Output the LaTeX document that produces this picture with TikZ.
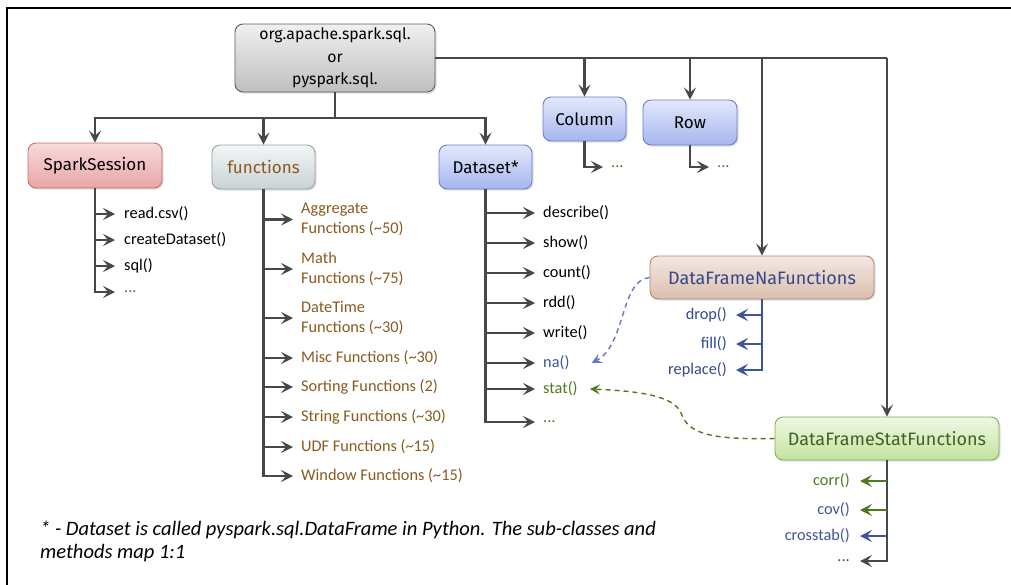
\documentclass[tikz,border=0pt]{standalone}
\usepackage{fontspec}
\setmainfont{Carlito}
\newfontfamily\boxfont{Fira Sans}
\usetikzlibrary{arrows.meta,shadows}

\definecolor{dk}{HTML}{45494C}
\definecolor{nablue}{HTML}{3F5399}
\definecolor{dashblue}{HTML}{6478C4}
\definecolor{stgreen}{HTML}{4E7A1F}
\definecolor{fnbrown}{HTML}{8A5A1E}
\definecolor{natext}{HTML}{34488A}
\definecolor{sttext}{HTML}{3D6420}

\begin{document}
\begin{tikzpicture}[x=1pt,y=-1pt,
  box/.style={draw, rounded corners=8pt, line width=0.9pt, inner sep=0pt,
    align=center, font=\boxfont\fontsize{17}{22.5}\selectfont,
    drop shadow={opacity=0.25, shadow xshift=1.5pt, shadow yshift=-1.5pt}},
  conn/.style={draw=dk, line width=2.5pt},
  arr/.style={conn, -{Stealth[length=12pt,width=12pt,inset=5pt]}},
  darr/.style={line width=1.4pt, dash pattern=on 5pt off 4pt,
    -{Stealth[length=10pt,width=10pt,inset=4pt]}},
  item/.style={inner sep=0pt, anchor=west, align=left,
    font=\fontsize{16.3}{19.5}\selectfont},
  litem/.style={inner sep=0pt, anchor=east, font=\fontsize{16.3}{19.5}\selectfont},
  fn/.style={item, text=fnbrown}]

\useasboundingbox (0,0) rectangle (1011,584);
\clip (0,0) rectangle (1011,584);
\fill[white] (0,0) rectangle (1011,584);
% outer frame
\draw[line width=2.6pt, black] (7,620) -- (7,8) -- (1040,8);

% class boxes
\node[box, draw=dk!90, top color=gray!12, bottom color=gray!50,
  font=\boxfont\fontsize{15.8}{22.5}\selectfont,
  minimum width=200pt, minimum height=68pt] (root) at (335,58)
  {org.apache.spark.sql.\\or\\pyspark.sql.};
\node[box, draw={rgb,255:red,196;green,112;blue,112}, top color={rgb,255:red,248;green,218;blue,218},
  bottom color={rgb,255:red,232;green,166;blue,166},
  minimum width=134pt, minimum height=45pt] (spark) at (95,165.5) {SparkSession};
\node[box, draw={rgb,255:red,150;green,162;blue,164}, top color={rgb,255:red,242;green,246;blue,246},
  bottom color={rgb,255:red,200;green,210;blue,212}, text=fnbrown,
  minimum width=103pt, minimum height=44pt] (func) at (263.5,167) {functions};
\node[box, draw={rgb,255:red,106;green,127;blue,200}, top color={rgb,255:red,226;green,232;blue,252},
  bottom color={rgb,255:red,166;green,182;blue,238},
  minimum width=93pt, minimum height=44pt] (dataset) at (485.5,167) {Dataset*};
\node[box, draw={rgb,255:red,106;green,127;blue,200}, top color={rgb,255:red,226;green,232;blue,252},
  bottom color={rgb,255:red,166;green,182;blue,238},
  minimum width=83pt, minimum height=44pt] (column) at (584.5,119) {Column};
\node[box, draw={rgb,255:red,106;green,127;blue,200}, top color={rgb,255:red,226;green,232;blue,252},
  bottom color={rgb,255:red,166;green,182;blue,238},
  minimum width=94pt, minimum height=45pt] (row) at (690,122.5) {Row};
\node[box, draw={rgb,255:red,176;green,136;blue,112}, top color={rgb,255:red,244;green,232;blue,226},
  bottom color={rgb,255:red,218;green,190;blue,174}, text=natext,
  font=\boxfont\fontsize{18}{22.5}\selectfont,
  minimum width=224pt, minimum height=43pt] (na) at (762,277.5) {DataFrameNaFunctions};
\node[box, draw={rgb,255:red,128;green,176;blue,80}, top color={rgb,255:red,240;green,248;blue,228},
  bottom color={rgb,255:red,196;green,226;blue,158}, text=sttext,
  font=\boxfont\fontsize{18}{22.5}\selectfont,
  minimum width=224pt, minimum height=43pt] (stat) at (887,438.5) {DataFrameStatFunctions};

% root connectors
\coordinate (bus) at (335,118);
\draw[conn] (root.south) -- (bus);
\draw[arr] (bus) -| (spark.north);
\draw[arr] (bus) -| (func.north);
\draw[arr] (bus) -| (dataset.north);
\draw[conn] (root.east) -- (root.east -| stat.north);
\draw[arr] (root.east -| column.north) -- (column.north);
\draw[arr] (root.east -| row.north) -- (row.north);
\draw[arr] (root.east -| na.north) -- (na.north);
\draw[arr] (root.east -| stat.north) -- (stat.north);

% SparkSession members
\node[item] (s1) at (124,214) {read.csv()};
\node[item] (s2) at (124,240) {createDataset()};
\node[item] (s3) at (124,266) {sql()};
\node[item, text=stgreen] (s4) at (124,292) {...};
\draw[arr] (spark.south) |- ([xshift=-9pt]s4.west);
\foreach \i in {1,...,3} \draw[arr] (spark.south |- s\i.west) -- ([xshift=-9pt]s\i.west);

% functions members
\node[fn] (f1) at (301,219.5) {Aggregate\\Functions (\textasciitilde 50)};
\node[fn] (f2) at (301,269) {Math\\Functions (\textasciitilde 75)};
\node[fn] (f3) at (301,318) {DateTime\\Functions (\textasciitilde 30)};
\node[fn] (f4) at (301,358) {Misc Functions (\textasciitilde 30)};
\node[fn] (f5) at (301,387) {Sorting Functions (2)};
\node[fn] (f6) at (301,417) {String Functions (\textasciitilde 30)};
\node[fn] (f7) at (301,447) {UDF Functions (\textasciitilde 15)};
\node[fn] (f8) at (301,476) {Window Functions (\textasciitilde 15)};
\draw[arr] (func.south) |- ([xshift=-8pt]f8.west);
\foreach \i in {1,...,7} \draw[arr] (func.south |- f\i.west) -- ([xshift=-8pt]f\i.west);

% Dataset members
\node[item] (d1) at (543,213) {describe()};
\node[item] (d2) at (543,243) {show()};
\node[item] (d3) at (543,273) {count()};
\node[item] (d4) at (543,303) {rdd()};
\node[item] (d5) at (543,333) {write()};
\node[item, text=nablue] (d6) at (543,363) {na()};
\node[item, text=stgreen] (d7) at (543,389) {stat()};
\node[item, text=stgreen] (d8) at (543,422) {...};
\draw[arr] (dataset.south) |- ([xshift=-8pt]d8.west);
\foreach \i in {1,...,7} \draw[arr] (dataset.south |- d\i.west) -- ([xshift=-8pt]d\i.west);

% Column and Row members
\node[item, text=stgreen] (c1) at (611,167) {...};
\draw[arr] (column.south) |- ([xshift=-8pt]c1.west);
\node[item, text=stgreen] (r1) at (717,167) {...};
\draw[arr] (row.south) |- ([xshift=-8pt]r1.west);

% DataFrameNaFunctions members
\node[litem, text=natext] (n1) at (727,315) {drop()};
\node[litem, text=natext] (n2) at (727,344) {fill()};
\node[litem, text=natext] (n3) at (727,370) {replace()};
\draw[arr, draw=nablue] (na.south) |- ([xshift=9pt]n3.east);
\foreach \i in {1,2} \draw[arr, draw=nablue] (na.south |- n\i.east) -- ([xshift=9pt]n\i.east);

% DataFrameStatFunctions members
\node[litem, text=stgreen] (t1) at (850,481) {corr()};
\node[litem, text=nablue] (t2) at (850,510) {cov()};
\node[litem, text=nablue] (t3) at (850,536) {crosstab()};
\node[litem, text=dk] (t4) at (850,561) {...};
\draw[arr] (stat.south) |- ([xshift=10pt]t4.east);
\draw[arr, draw=stgreen] (stat.south |- t1.east) -- ([xshift=10pt]t1.east);
\draw[arr, draw=stgreen] (stat.south |- t2.east) -- ([xshift=10pt]t2.east);
\draw[arr, draw=nablue] (stat.south |- t3.east) -- ([xshift=10pt]t3.east);

% cross references
\draw[darr, draw=dashblue]
  (na.west) .. controls (620,280) and (626,345) .. ([xshift=22pt]d6.east);
\draw[darr, draw=stgreen]
  (stat.west) .. controls (705,440) and (688,432) .. (681,413)
  .. controls (674,396) and (640,391) .. ([xshift=12pt]d7.east);

% footnote
\node[anchor=north west, align=left, inner sep=0pt,
  font=\itshape\fontsize{20.5}{23}\selectfont] (note) at (40,521)
  {* - Dataset is called pyspark.sql.DataFrame in Python. The sub-classes and\\methods map 1:1};
\end{tikzpicture}
\end{document}
